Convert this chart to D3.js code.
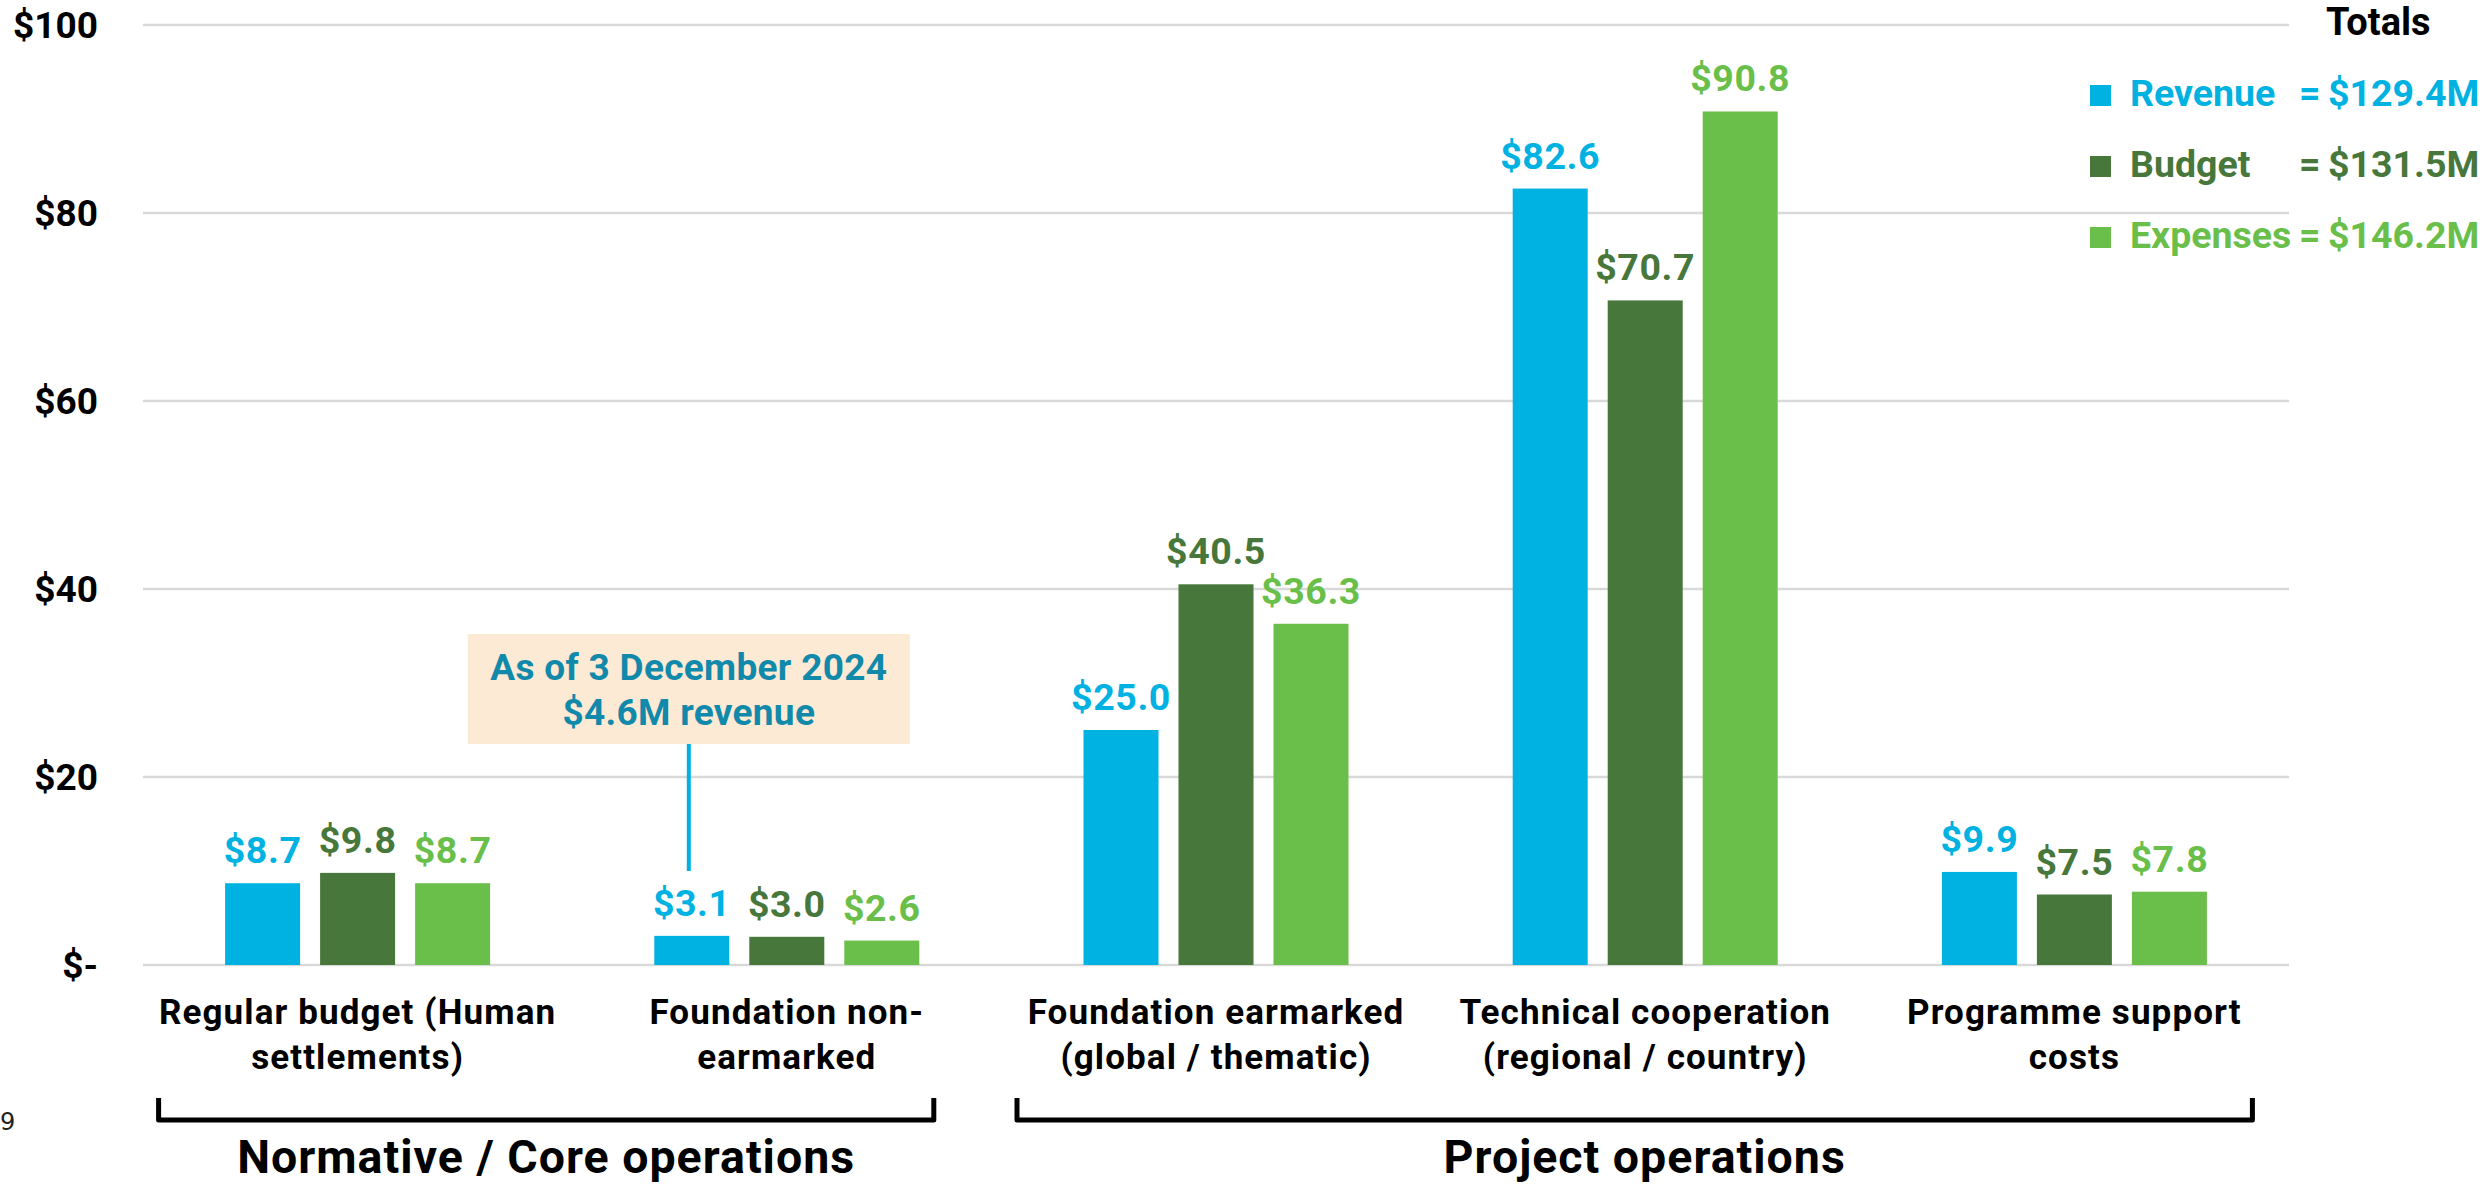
<!DOCTYPE html>
<html>
<head>
<meta charset="utf-8">
<script src="https://cdn.jsdelivr.net/npm/d3@7"></script>
<style>
  html, body { margin: 0; padding: 0; background: #fff; }
  svg { display: block; font-family: Roboto, "Noto Sans", sans-serif; }
</style>
</head>
<body>
<svg id="chart" width="2484" height="1186"></svg>
<script>
// ---- Data ----
const categories = [
  "Regular budget (Human settlements)",
  "Foundation non-earmarked",
  "Foundation earmarked (global / thematic)",
  "Technical cooperation (regional / country)",
  "Programme support costs"
];
const categoryLines = [
  ["Regular budget (Human", "settlements)"],
  ["Foundation non-", "earmarked"],
  ["Foundation earmarked", "(global / thematic)"],
  ["Technical cooperation", "(regional / country)"],
  ["Programme support", "costs"]
];
const seriesNames = ["Revenue", "Budget", "Expenses"];
const revenue  = [8.7, 3.1, 25.0, 82.6, 9.9];
const budget   = [9.8, 3.0, 40.5, 70.7, 7.5];
const expenses = [8.7, 2.6, 36.3, 90.8, 7.8];
const totals   = ["$129.4M", "$131.5M", "$146.2M"];
const yTicks   = [0, 20, 40, 60, 80, 100];
const groupNames = ["Normative / Core operations", "Project operations"];
const groupMembers = [[0, 1], [2, 3, 4]];
const annotationLines = ["As of 3 December 2024", "$4.6M revenue"];

const colors = { Revenue: "#00B2E2", Budget: "#47773A", Expenses: "#6ABF4B" };
const seriesValues = { Revenue: revenue, Budget: budget, Expenses: expenses };

// ---- Layout ----
const svg = d3.select("#chart");
const plot = { left: 143, right: 2289, top: 25, bottom: 965 };

const x0 = d3.scaleBand().domain(categories).range([plot.left, plot.right]).paddingInner(0).paddingOuter(0);
const x1 = d3.scaleBand().domain(seriesNames).range([-132.5, 132.5]).paddingInner(20 / 95).paddingOuter(0);
const y = d3.scaleLinear().domain([0, 100]).range([plot.bottom, plot.top]);
const cx = c => x0(c) + x0.bandwidth() / 2;

// gridlines
svg.append("g").selectAll("line").data(yTicks).join("line")
  .attr("x1", plot.left).attr("x2", plot.right)
  .attr("y1", d => y(d)).attr("y2", d => y(d))
  .attr("stroke", "#D9D9D9").attr("stroke-width", 2.5);

// y axis labels
svg.append("g").selectAll("text").data(yTicks).join("text")
  .attr("x", 98).attr("y", d => y(d)).attr("dy", "0.36em")
  .attr("text-anchor", "end")
  .attr("font-size", 37).attr("font-weight", 700).attr("fill", "#000")
  .text(d => d === 0 ? "$-" : "$" + d);

// bars
const fmt = d3.format(".1f");
const barData = [];
categories.forEach((c, i) => {
  seriesNames.forEach(s => barData.push({ cat: c, s, v: seriesValues[s][i] }));
});
svg.append("g").selectAll("rect").data(barData).join("rect")
  .attr("x", d => cx(d.cat) + x1(d.s))
  .attr("width", x1.bandwidth())
  .attr("y", d => y(d.v))
  .attr("height", d => y(0) - y(d.v))
  .attr("fill", d => colors[d.s]);

// value labels
svg.append("g").selectAll("text").data(barData).join("text")
  .attr("x", d => cx(d.cat) + x1(d.s) + x1.bandwidth() / 2)
  .attr("y", d => y(d.v) - 20)
  .attr("text-anchor", "middle")
  .attr("font-size", 37.5).attr("font-weight", 700)
  .attr("letter-spacing", 0.6)
  .attr("fill", d => colors[d.s])
  .text(d => "$" + fmt(d.v));

// category labels
const catG = svg.append("g");
categories.forEach((c, i) => {
  const t = catG.append("text")
    .attr("x", cx(c)).attr("y", 1024)
    .attr("text-anchor", "middle")
    .attr("font-size", 35).attr("font-weight", 700).attr("fill", "#000")
    .attr("letter-spacing", 1.1);
  categoryLines[i].forEach((line, k) => {
    t.append("tspan").attr("x", cx(c)).attr("dy", k === 0 ? 0 : 45).text(line);
  });
});

// group brackets
const bracketInset = [[199, 147], [199, 178]];
const labelShift = [0, 10];
groupNames.forEach((g, gi) => {
  const mem = groupMembers[gi];
  const xl = cx(categories[mem[0]]) - bracketInset[gi][0];
  const xr = cx(categories[mem[mem.length - 1]]) + bracketInset[gi][1];
  svg.append("path")
    .attr("d", `M${xl},1098 L${xl},1120 L${xr},1120 L${xr},1098`)
    .attr("fill", "none").attr("stroke", "#000").attr("stroke-width", 5)
    .attr("stroke-linejoin", "round");
  svg.append("text")
    .attr("x", (xl + xr) / 2 + labelShift[gi]).attr("y", 1173)
    .attr("text-anchor", "middle")
    .attr("font-size", 46.5).attr("font-weight", 700).attr("fill", "#000")
    .attr("letter-spacing", 1)
    .text(g);
});

// annotation
const annX = cx(categories[1]) + x1("Revenue") + x1.bandwidth() / 2 - 3;
svg.append("line")
  .attr("x1", annX).attr("x2", annX)
  .attr("y1", 744).attr("y2", 871)
  .attr("stroke", "#00B2E2").attr("stroke-width", 4);
svg.append("rect")
  .attr("x", annX - 221).attr("y", 634)
  .attr("width", 442).attr("height", 110)
  .attr("fill", "#FDEAD4");
annotationLines.forEach((line, k) => {
  svg.append("text")
    .attr("x", annX).attr("y", 680 + k * 45)
    .attr("text-anchor", "middle")
    .attr("font-size", 37).attr("font-weight", 700).attr("fill", "#1189AA")
    .attr("letter-spacing", 0.3)
    .text(line);
});

// legend
svg.append("text")
  .attr("x", 2326).attr("y", 35)
  .attr("font-size", 38).attr("font-weight", 700).attr("fill", "#000")
  .text("Totals");
seriesNames.forEach((s, i) => {
  const by = 106 + i * 71;
  svg.append("rect").attr("x", 2090).attr("y", by - 21).attr("width", 21).attr("height", 21)
    .attr("fill", colors[s]);
  svg.append("text").attr("x", 2130).attr("y", by)
    .attr("font-size", 37.5).attr("font-weight", 700).attr("fill", colors[s]).text(s);
  svg.append("text").attr("x", 2299).attr("y", by)
    .attr("font-size", 37.5).attr("font-weight", 700).attr("fill", colors[s]).text("=");
  svg.append("text").attr("x", 2328).attr("y", by)
    .attr("font-size", 37.5).attr("font-weight", 700).attr("fill", colors[s]).text(totals[i]);
});

// page number fragment
svg.append("text")
  .attr("x", 0).attr("y", 1130).attr("text-anchor", "start")
  .attr("font-size", 24).attr("font-weight", 400).attr("fill", "#222")
  .attr("font-family", "'DejaVu Sans', sans-serif")
  .text("9");
</script>
</body>
</html>
